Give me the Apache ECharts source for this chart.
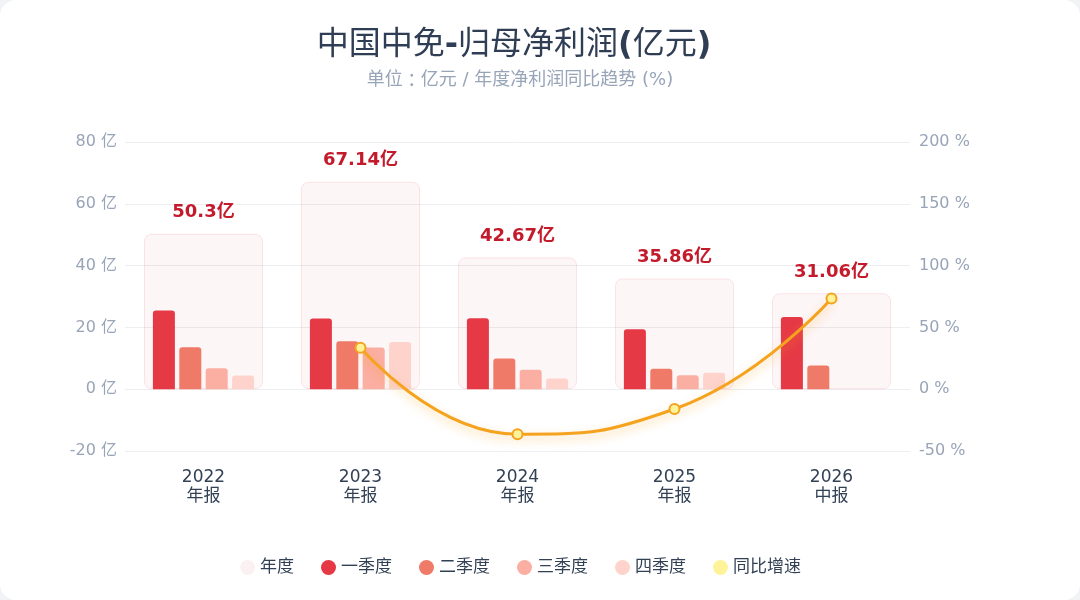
<!DOCTYPE html>
<html>
<head>
    <meta charset="utf-8">
    <title>中国中免-归母净利润</title>
    <script src="https://cdn.jsdelivr.net/npm/echarts@6/dist/echarts.min.js"></script>
    <style>
        html, body { margin: 0; padding: 0; background: #f1f3f6; }
        #chart1 { width: 1080px; height: 600px; background: #fff; border-radius: 16px; overflow: hidden; }
    </style>
</head>
<body>
<div id="chart1"></div>
<script type="text/javascript">
    // 数据
    var years = ['2022\n年报', '2023\n年报', '2024\n年报', '2025\n年报', '2026\n中报'];
    var annual = [50.3, 67.14, 42.67, 35.86, 31.06];
    var q1 = [25.5, 22.9, 23.0, 19.4, 23.4];
    var q2 = [13.6, 15.5, 9.9, 6.6, 7.66];
    var q3 = [6.8, 13.5, 6.3, 4.5, null];
    var q4 = [4.4, 15.24, 3.47, 5.36, null];
    var yoy = [null, 33.5, -36.4, -16.0, 73.4];

    var font = 'DejaVu Sans, Noto Sans CJK SC, sans-serif';
    var cjk = 'Noto Sans CJK TC, sans-serif';
    var myChart1 = echarts.init(document.getElementById('chart1'));

    function quarter(name, data, color) {
        return {
            name: name,
            type: 'bar',
            xAxisIndex: 0,
            yAxisIndex: 0,
            barWidth: 22,
            barGap: '20%',
            z: 3,
            itemStyle: { color: color, borderRadius: [3, 3, 0, 0] },
            data: data
        };
    }

    myChart1.setOption({
        textStyle: { fontFamily: font },
        title: [
            {
                text: '中国中免{b|-}归母净利润{b|(}亿元{b|)}',
                left: 509,
                textAlign: 'center',
                top: 25,
                textStyle: {
                    fontSize: 32, fontWeight: 'normal', color: '#2f3e54', fontFamily: font,
                    rich: { b: { fontSize: 32, fontWeight: 'bold', color: '#2f3e54', fontFamily: font } }
                }
            },
            {
                text: '单位{c|：}亿元 / 年度净利润同比趋势 (%)',
                left: 515,
                textAlign: 'center',
                top: 66,
                textStyle: {
                    fontSize: 18, fontWeight: 'normal', color: '#98a4b8', fontFamily: font,
                    rich: { c: { fontSize: 18, color: '#98a4b8', fontFamily: cjk } }
                }
            }
        ],
        legend: {
            left: 235,
            bottom: 19,
            icon: 'circle',
            itemWidth: 15,
            itemHeight: 15,
            itemGap: 27,
            textStyle: { fontSize: 17, color: '#334155' },
            data: [
                { name: '年度', itemStyle: { borderWidth: 0, color: '#fbf1f2' } },
                '一季度', '二季度', '三季度', '四季度',
                { name: '同比增速', itemStyle: { borderWidth: 0, color: '#fff39a' } }
            ]
        },
        grid: { left: 125, right: 170, top: 142, bottom: 149 },
        xAxis: [
            {
                type: 'category',
                data: years,
                axisLine: { show: false },
                axisTick: { show: false },
                axisLabel: { fontSize: 17, color: '#334155', lineHeight: 19, margin: 17 }
            },
            {
                type: 'category',
                data: years,
                show: false
            }
        ],
        yAxis: [
            {
                type: 'value',
                min: -20,
                max: 80,
                interval: 20,
                axisLabel: { formatter: '{value} 亿', fontSize: 16, color: '#98a4b8', margin: 8 },
                splitLine: { lineStyle: { color: '#eceef2' } }
            },
            {
                type: 'value',
                min: -50,
                max: 200,
                interval: 50,
                axisLabel: { formatter: '{value} %', fontSize: 16, color: '#98a4b8', margin: 9 },
                splitLine: { show: false }
            }
        ],
        series: [
            {
                name: '年度',
                type: 'bar',
                xAxisIndex: 1,
                yAxisIndex: 0,
                barWidth: 119,
                z: 1,
                itemStyle: {
                    color: 'rgba(215,80,100,0.05)',
                    borderColor: 'rgba(230,57,70,0.12)',
                    borderWidth: 1,
                    borderRadius: 7
                },
                label: {
                    show: true,
                    position: 'top',
                    distance: 12,
                    formatter: '{c}亿',
                    fontSize: 18,
                    fontWeight: 'bold',
                    color: '#c31a2c'
                },
                data: annual
            },
            quarter('一季度', q1, '#e63946'),
            quarter('二季度', q2, '#f07a68'),
            quarter('三季度', q3, '#fbaea2'),
            quarter('四季度', q4, '#fdd3cc'),
            {
                name: '同比增速',
                type: 'line',
                xAxisIndex: 0,
                yAxisIndex: 1,
                smooth: 0.5,
                z: 5,
                symbol: 'circle',
                symbolSize: 10,
                lineStyle: {
                    color: '#f5a31f',
                    width: 3,
                    shadowColor: 'rgba(245,163,31,0.45)',
                    shadowBlur: 10,
                    shadowOffsetY: 4
                },
                itemStyle: { color: '#fff39a', borderColor: '#f5a31f', borderWidth: 2 },
                data: yoy
            }
        ]
    });
</script>
</body>
</html>
